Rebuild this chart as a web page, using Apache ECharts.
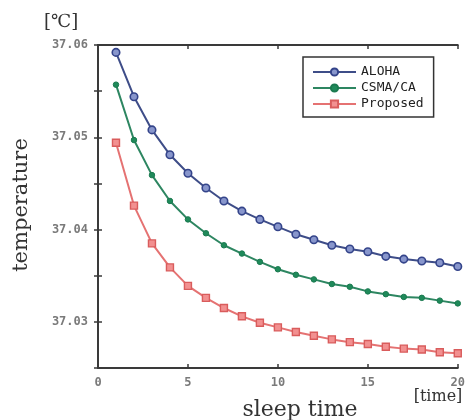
<!DOCTYPE html>
<html>
<head>
<meta charset="utf-8">
<style>
  html, body { margin: 0; padding: 0; background: #fff; }
  #chart { width: 468px; height: 420px; }
</style>
<script src="https://cdn.jsdelivr.net/npm/echarts@6/dist/echarts.min.js"></script>
</head>
<body>
<div id="chart"></div>
<script>
// Sleep time steps (x) and body temperature per access scheme
const sleepTime = [1, 2, 3, 4, 5, 6, 7, 8, 9, 10, 11, 12, 13, 14, 15, 16, 17, 18, 19, 20];
const aloha = [37.0592, 37.0544, 37.0508, 37.0481, 37.0461, 37.0445, 37.0431, 37.0420, 37.0411, 37.0403,
               37.0395, 37.0389, 37.0383, 37.0379, 37.0376, 37.0371, 37.0368, 37.0366, 37.0364, 37.0360];
const csma = [37.0557, 37.0497, 37.0459, 37.0431, 37.0411, 37.0396, 37.0383, 37.0374, 37.0365, 37.0357,
              37.0351, 37.0346, 37.0341, 37.0338, 37.0333, 37.0330, 37.0327, 37.0326, 37.0323, 37.0320];
const proposed = [37.0494, 37.0426, 37.0385, 37.0359, 37.0339, 37.0326, 37.0315, 37.0306, 37.0299, 37.0294,
                  37.0289, 37.0285, 37.0281, 37.0278, 37.0276, 37.0273, 37.0271, 37.0270, 37.0267, 37.0266];
const seriesNames = ['ALOHA', 'CSMA/CA', 'Proposed'];
const yTickLabels = ['37.03', '37.04', '37.05', '37.06'];
const xTickLabels = ['0', '5', '10', '15', '20'];

const pair = (ys) => sleepTime.map((x, i) => [x, ys[i]]);

const frameColor = '#3a3a3a';
const tickLabelStyle = { fontFamily: 'DejaVu Sans Mono', fontSize: 12, fontWeight: 'bold', color: '#7a7a7a' };

const chart = echarts.init(document.getElementById('chart'), null, { renderer: 'canvas' });
chart.setOption({
  animation: false,
  backgroundColor: '#fff',
  grid: { left: 98, right: 5, top: 45, bottom: 52 },
  xAxis: [
    {
      type: 'value', min: 0, max: 20, interval: 5, position: 'bottom',
      axisLine: { lineStyle: { color: frameColor, width: 2 } },
      axisTick: { inside: true, length: 4, lineStyle: { color: frameColor, width: 1.5 } },
      splitLine: { show: false },
      axisLabel: Object.assign({ margin: 9, formatter: (v) => xTickLabels.includes(String(v)) ? String(v) : '' }, tickLabelStyle)
    },
    {
      type: 'value', min: 0, max: 20, interval: 5, position: 'top',
      axisLine: { lineStyle: { color: frameColor, width: 2 } },
      axisTick: { inside: true, length: 4, lineStyle: { color: frameColor, width: 1.5 } },
      splitLine: { show: false },
      axisLabel: { show: false }
    }
  ],
  yAxis: [
    {
      type: 'value', min: 37.025, max: 37.06, interval: 0.005, position: 'left',
      axisLine: { show: true, lineStyle: { color: frameColor, width: 2 } },
      axisTick: { show: true, inside: true, length: 4, lineStyle: { color: frameColor, width: 1.5 } },
      splitLine: { show: false },
      axisLabel: Object.assign({
        margin: 10,
        formatter: (v) => {
          const s = v.toFixed(3);
          const t = v.toFixed(2);
          return (s.endsWith('0') && yTickLabels.includes(t)) ? t : '';
        }
      }, tickLabelStyle)
    },
    {
      type: 'value', min: 37.025, max: 37.06, interval: 0.005, position: 'right',
      axisLine: { show: true, lineStyle: { color: frameColor, width: 2 } },
      axisTick: { show: true, inside: true, length: 4, lineStyle: { color: frameColor, width: 1.5 } },
      splitLine: { show: false },
      axisLabel: { show: false }
    }
  ],
  legend: {
    orient: 'vertical',
    left: 303, top: 57,
    padding: [8, 10, 6, 9],
    itemWidth: 43, itemHeight: 9, itemGap: 2, itemTextGap: 10,
    borderColor: '#333', borderWidth: 1.5, borderRadius: 0,
    backgroundColor: '#fff',
    data: seriesNames,
    textStyle: { fontFamily: 'DejaVu Sans Mono', fontSize: 13, color: '#222', lineHeight: 14 }
  },
  series: [
    {
      name: seriesNames[0], type: 'line', data: pair(aloha),
      xAxisIndex: 0, yAxisIndex: 0,
      symbol: 'circle', symbolSize: 7.5, z: 3,
      lineStyle: { color: '#3e4d88', width: 2 },
      itemStyle: { color: '#8896cc', borderColor: '#34448a', borderWidth: 1.6 }
    },
    {
      name: seriesNames[1], type: 'line', data: pair(csma),
      xAxisIndex: 0, yAxisIndex: 0,
      symbol: 'circle', symbolSize: 5.5, z: 3,
      lineStyle: { color: '#2d8661', width: 2 },
      itemStyle: { color: '#1f8a5a', borderColor: '#1b7a50', borderWidth: 1 }
    },
    {
      name: seriesNames[2], type: 'line', data: pair(proposed),
      xAxisIndex: 0, yAxisIndex: 0,
      symbol: 'rect', symbolSize: 7, z: 3,
      lineStyle: { color: '#e57272', width: 2 },
      itemStyle: { color: '#f29090', borderColor: '#d95c5c', borderWidth: 1.4 }
    }
  ],
  graphic: [
    {
      type: 'text', left: 44, top: 13,
      style: { text: '[℃]', fontFamily: 'DejaVu Serif', fontSize: 18, fill: '#333' }
    },
    {
      type: 'text', x: 22, y: 205, rotation: Math.PI / 2,
      style: { text: 'temperature', fontFamily: 'DejaVu Serif', fontSize: 21, fill: '#333',
               align: 'center', verticalAlign: 'middle' }
    },
    {
      type: 'text', x: 300, y: 410,
      style: { text: 'sleep time', fontFamily: 'DejaVu Serif', fontSize: 22, fill: '#333',
               align: 'center', verticalAlign: 'middle' }
    },
    {
      type: 'text', x: 438, y: 397,
      style: { text: '[time]', fontFamily: 'DejaVu Serif', fontSize: 16, fill: '#333',
               align: 'center', verticalAlign: 'middle' }
    }
  ]
});
</script>
</body>
</html>
